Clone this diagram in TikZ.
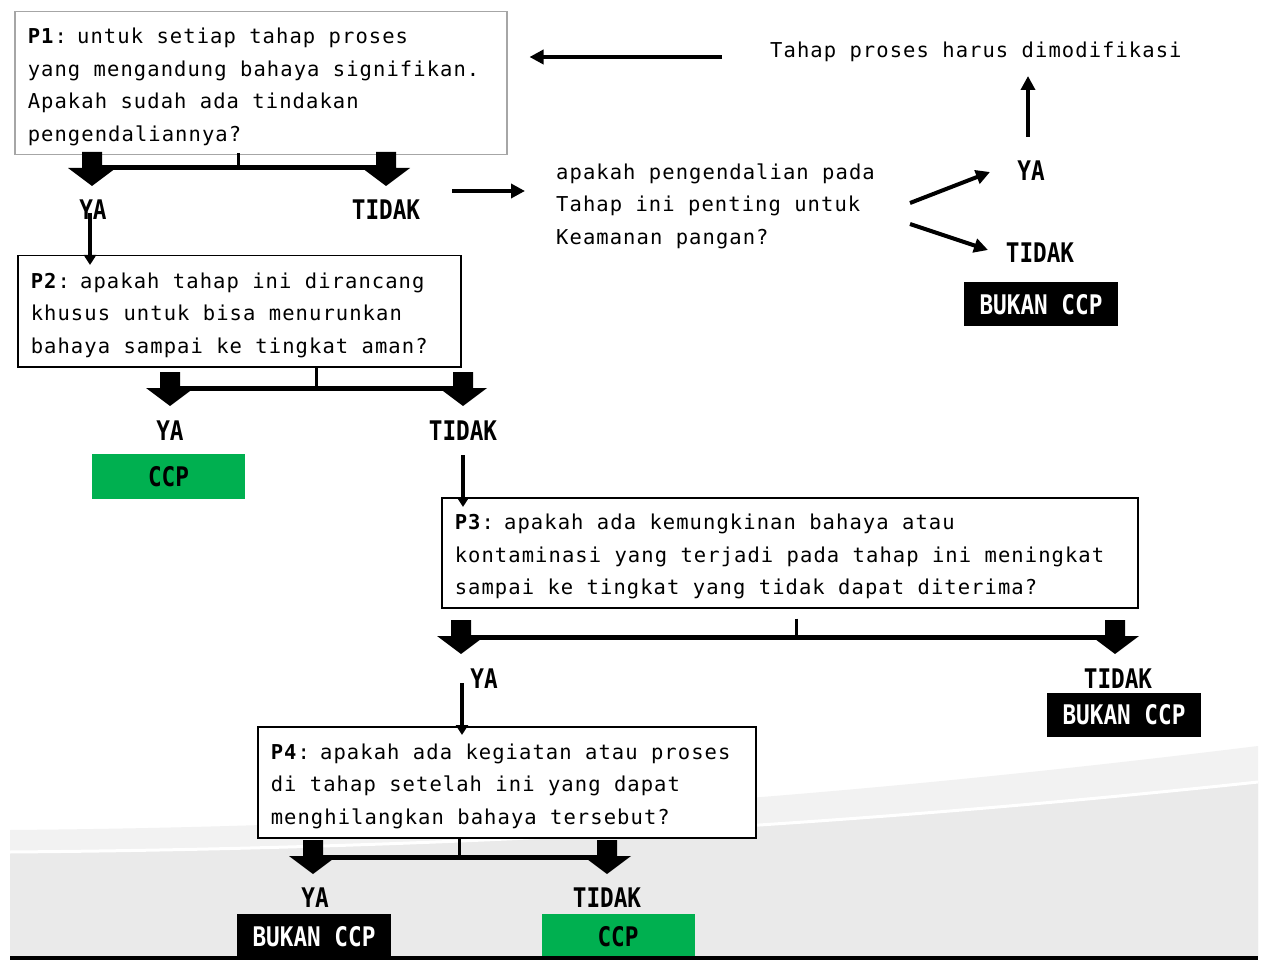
\documentclass[tikz,border=0pt]{standalone}
\usepackage{fontspec}
\usetikzlibrary{arrows.meta,calc}
\newfontfamily\txtf[LetterSpace=5.2]{DejaVu Sans Mono}
\newfontfamily\lblf[FakeStretch=0.84]{DejaVu Sans Mono}
\definecolor{ccpgreen}{RGB}{0,176,80}
\definecolor{bandA}{RGB}{242,242,242}
\definecolor{bandB}{RGB}{234,234,234}
\definecolor{boxgrey}{RGB}{166,166,166}
\definecolor{baseline}{RGB}{64,64,64}
\tikzset{
  qbox/.style={draw=black, line width=1.5pt, fill=white, anchor=north west,
    align=left, inner ysep=0pt, inner xsep=13pt,
    font=\txtf\fontsize{20.5}{32.5}\selectfont,
    execute at begin node={\spaceskip=0pt\relax\leavevmode\rule{0pt}{23pt}}},
  qtext/.style={align=left, inner sep=0pt, font=\txtf\fontsize{20.5}{32.5}\selectfont},
  lbl/.style={inner sep=0pt, font=\lblf\bfseries\fontsize{27}{27}\selectfont},
  bukan/.style={lbl, fill=black, text=white, minimum width=154pt, minimum height=44pt},
  ccp/.style={lbl, fill=ccpgreen, text=black, minimum width=153pt, minimum height=45pt},
  tarrow/.style={line width=3.2pt, -{Triangle[length=10pt,width=12pt]}},
  barrow/.style={line width=4pt, -{Triangle[length=14pt,width=14pt]}},
  stub/.style={line width=3pt},
  bar/.style={line width=5pt},
  dblock/.pic={\fill[black] (-10,0) -- (10,0) -- (10,16) -- (24,16) -- (0,34)
      -- (-24,16) -- (-10,16) -- cycle;}
}
\begin{document}
\begin{tikzpicture}[x=1pt,y=-1pt]
\useasboundingbox (0,0) rectangle (1262,960);
% background
\fill[white] (0,0) rectangle (1262,960);
\fill[bandA] (10,830) .. controls (500,826) and (900,790) .. (1258,746) -- (1258,958) -- (10,958) -- cycle;
\fill[bandB] (10,852) .. controls (500,848) and (900,820) .. (1258,782) -- (1258,958) -- (10,958) -- cycle;
\draw[white, line width=3pt] (10,852) .. controls (500,848) and (900,820) .. (1258,782);

% question boxes
\node[qbox, draw=boxgrey, minimum width=492pt, minimum height=143pt, text width=466pt] (p1) at (14,11)
  {\textbf{P1}: untuk setiap tahap proses\\yang mengandung bahaya signifikan.\\Apakah sudah ada tindakan\\pengendaliannya?};
\node[qbox, minimum width=443pt, minimum height=111pt, text width=417pt] (p2) at (17,255)
  {\textbf{P2}: apakah tahap ini dirancang\\khusus untuk bisa menurunkan\\bahaya sampai ke tingkat aman?};
\node[qbox, minimum width=696pt, minimum height=110pt, text width=670pt] (p3) at (441,497)
  {\textbf{P3}: apakah ada kemungkinan bahaya atau\\kontaminasi yang terjadi pada tahap ini meningkat\\sampai ke tingkat yang tidak dapat diterima?};
\node[qbox, minimum width=498pt, minimum height=111pt, text width=472pt] (p4) at (257,726)
  {\textbf{P4}: apakah ada kegiatan atau proses\\di tahap setelah ini yang dapat\\menghilangkan bahaya tersebut?};

% other texts
\node[qtext, anchor=west] (q) at (556,206) {apakah pengendalian pada\\Tahap ini penting untuk\\Keamanan pangan?};
\node[qtext, anchor=west] (mod) at (770,52) {Tahap proses harus dimodifikasi};

% labels
\node[lbl] (p1ya) at (93,210) {YA};
\node[lbl] (p1tidak) at (386,210) {TIDAK};
\node[lbl] (qya) at (1031,171) {YA};
\node[lbl] (qtidak) at (1040,253) {TIDAK};
\node[lbl] (p2ya) at (170,431) {YA};
\node[lbl] (p2tidak) at (463,431) {TIDAK};
\node[lbl] (p3ya) at (484,679) {YA};
\node[lbl] (p3tidak) at (1118,679) {TIDAK};
\node[lbl] (p4ya) at (315,898) {YA};
\node[lbl] (p4tidak) at (607,898) {TIDAK};

% result boxes
\node[bukan] (bk1) at (1041,304.5) {BUKAN CCP};
\node[ccp] (ccp1) at (168.5,476.5) {CCP};
\node[bukan] (bk2) at (1124,715) {BUKAN CCP};
\node[bukan, minimum height=46pt] (bk3) at (314,937) {BUKAN CCP};
\node[ccp, minimum height=46pt] (ccp2) at (618,937) {CCP};

% forks
\draw[stub] ($(p1.south west)+(224,-2)$) -- ++(0,16);
\draw[bar] ($(p1ya.center)+(-1,-42)$) -- ($(p1tidak.center)+(0,-42)$);
\pic at ($(p1ya.center)+(-1,-58)$) {dblock};
\pic at ($(p1tidak.center)+(0,-58)$) {dblock};

\draw[stub] ($(p2.south west)+(299,0)$) -- ++(0,22);
\draw[bar] ($(p2ya.center)+(0,-43)$) -- ($(p2tidak.center)+(0,-43)$);
\pic at ($(p2ya.center)+(0,-59)$) {dblock};
\pic at ($(p2tidak.center)+(0,-59)$) {dblock};

\draw[stub] ($(p3.south west)+(355,10)$) -- ++(0,20);
\draw[bar] ($(p3ya.center)+(-23,-42)$) -- ($(p3tidak.center)+(-3,-42)$);
\pic at ($(p3ya.center)+(-23,-59)$) {dblock};
\pic at ($(p3tidak.center)+(-3,-59)$) {dblock};

\draw[stub] ($(p4.south west)+(202,0)$) -- ++(0,20);
\draw[bar] ($(p4ya.center)+(-2,-41)$) -- ($(p4tidak.center)+(0,-41)$);
\pic at ($(p4ya.center)+(-2,-58)$) {dblock};
\pic at ($(p4tidak.center)+(0,-58)$) {dblock};

% connectors
\draw[tarrow] ($(p1ya.center)+(-3,3)$) -- ($(p1ya.center |- p2.north)+(-3,10)$);
\draw[tarrow] ($(p2tidak.center)+(0,24)$) -- ($(p2tidak.center |- p3.north)+(0,10)$);
\draw[tarrow] ($(p3ya.center)+(-22,4)$) -- ($(p3ya.center |- p4.north)+(-22,9)$);

\draw[barrow] ($(p1tidak.center)+(66,-19)$) -- ($(q.west)+(-31,-15)$);
\draw[barrow] ($(q.west)+(354,-3)$) -- ($(qya.center)+(-41,1)$);
\draw[barrow] ($(q.west)+(354,18)$) -- ($(qtidak.center)+(-52,-3)$);
\draw[barrow] ($(qya.center)+(-3,-34)$) -- ($(qya.center)+(-3,-95)$);
\draw[barrow] ($(mod.west)+(-48,5)$) -- ($(p1.east |- mod.west)+(22,5)$);

% bottom line
\draw[baseline, line width=4pt] (10,958) -- (1258,958);
\end{tikzpicture}
\end{document}
